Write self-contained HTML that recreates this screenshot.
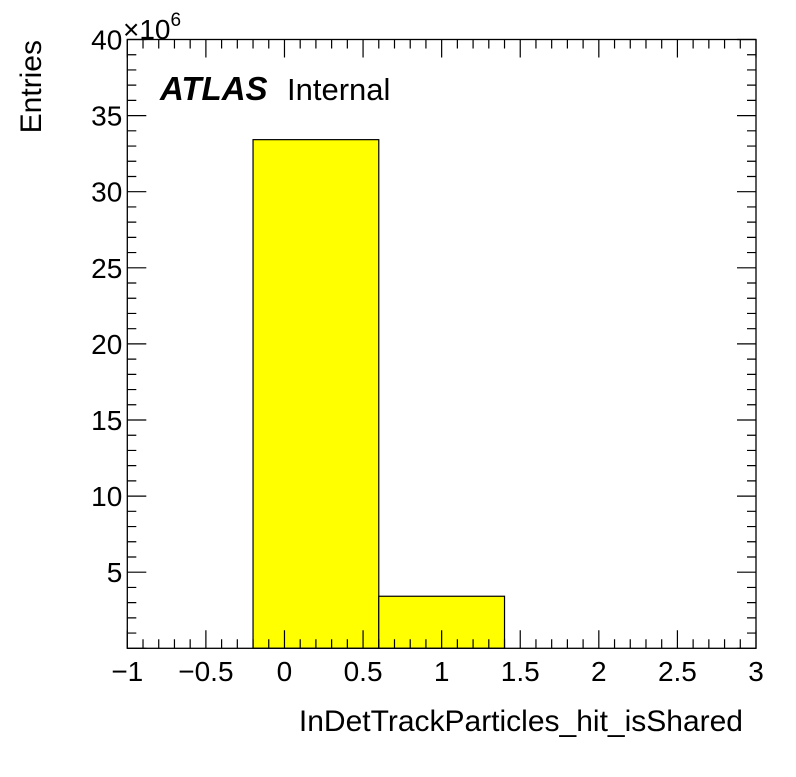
<!DOCTYPE html>
<html><head><meta charset="utf-8"><style>
body{margin:0;background:#fff;}
svg text{font-family:"Liberation Sans",sans-serif;fill:#000;}
</style></head><body>
<svg id="chart" width="796" height="772" xmlns="http://www.w3.org/2000/svg">
<g id="bars"></g>
<g id="axes"></g>
<text x="160" y="100" font-size="33" font-weight="bold" font-style="italic">ATLAS</text>
<text x="287" y="100" font-size="31">Internal</text>
<text x="743" y="731" font-size="30" text-anchor="end">InDetTrackParticles_hit_isShared</text>
<text transform="translate(41,40) rotate(-90)" font-size="30" text-anchor="end">Entries</text>
<text x="123" y="39" font-size="28">×10<tspan font-size="19" dy="-13">6</tspan></text>
</svg>
<script>
const binEdges=[-0.2,0.6,1.4];
const binValues=[33.42,3.42];
const xTicks=[-1,-0.5,0,0.5,1,1.5,2,2.5,3];
const xTickLabels=["−1","−0.5","0","0.5","1","1.5","2","2.5","3"];
const yTicks=[5,10,15,20,25,30,35,40];
const yTickLabels=["5","10","15","20","25","30","35","40"];
const L=127.3,R=756,T=39.5,B=648.3,xmin=-1,xmax=3,ymin=0,ymax=40;
const xs=v=>L+(v-xmin)/(xmax-xmin)*(R-L);
const ys=v=>B-(v-ymin)/(ymax-ymin)*(B-T);
const NS="http://www.w3.org/2000/svg";
function mk(tag,attrs,parent){const e=document.createElementNS(NS,tag);for(const k in attrs)e.setAttribute(k,attrs[k]);parent.appendChild(e);return e;}
const bars=document.getElementById('bars'),axes=document.getElementById('axes');
for(let i=0;i<binValues.length;i++){
 const r=mk('rect',{x:xs(binEdges[i]),y:ys(binValues[i]),width:xs(binEdges[i+1])-xs(binEdges[i]),height:B-ys(binValues[i]),fill:'#ffff00',stroke:'#000','stroke-width':1.2},bars);
 
 
}
const frame=mk('rect',{x:L,y:T,width:R-L,height:B-T,fill:'none',stroke:'#000','stroke-width':1.3},axes);


let d='';
for(let k=0;k<=40;k++){const v=xmin+k*0.1;const x=xs(v);const len=(k%5===0)?18:9;d+=`M${x},${B}v${-len}M${x},${T}v${len}`;}
for(let k=0;k<=40;k++){const y=ys(k);const len=(k%5===0)?19:9;d+=`M${L},${y}h${len}M${R},${y}h${-len}`;}
const ticks=mk('path',{d:d,stroke:'#000','stroke-width':1.2,fill:'none'},axes);


xTicks.forEach((v,i)=>{const t=mk('text',{x:xs(v),y:681,'font-size':28,'text-anchor':'middle'},axes);t.textContent=xTickLabels[i];
 
 });
yTicks.forEach((v,i)=>{const t=mk('text',{x:L-5,y:ys(v)+10,'font-size':28,'text-anchor':'end'},axes);t.textContent=yTickLabels[i];
 
 });
</script>
</body></html>
